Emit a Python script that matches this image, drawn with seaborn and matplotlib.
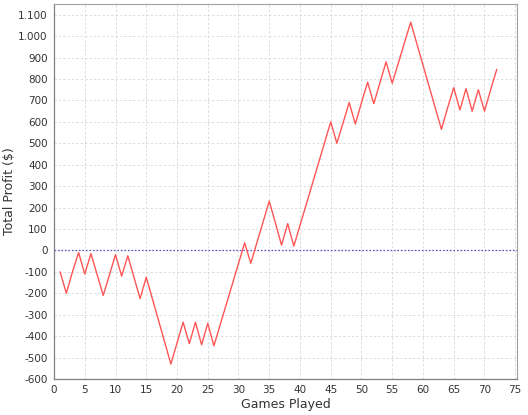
import matplotlib
matplotlib.use("Agg")
import matplotlib.pyplot as plt
import matplotlib.ticker as mticker
import seaborn as sns
import pandas as pd
import numpy as np

games = list(range(1, 73))
profit = [
    -100, -200, -100, -10, -110, -15, -112, -210, -115, -20,
    -120, -25, -125, -225, -125, -226, -327, -428, -530, -432,
    -335, -435, -335, -440, -340, -445, -349, -253, -157, -61,
    35, -60, 37, 133, 230, 128, 25, 125, 20, 117,
    213, 310, 407, 503, 600, 500, 595, 690, 590, 690,
    785, 685, 783, 880, 780, 875, 970, 1065, 965, 865,
    765, 665, 565, 665, 760, 655, 755, 650, 750, 650,
    750, 845,
]
x_ticks = list(range(0, 80, 5))
y_ticks = list(range(-600, 1200, 100))

df = pd.DataFrame({"Games Played": games, "Total Profit ($)": profit})

sns.set_style("white")
plt.rcParams["font.family"] = ["DejaVu Sans"]

fig = plt.figure(figsize=(5.28, 4.15), dpi=100)
ax = fig.add_axes([0.1023, 0.0867, 0.8770, 0.9037])

ax.axhline(0, color="#5050d0", lw=0.9, ls=(0, (1.2, 1.6)), zorder=2)
sns.lineplot(data=df, x="Games Played", y="Total Profit ($)", ax=ax,
             color="#ff5555", lw=1.0, zorder=3)

ax.set_xlim(0, 75.3)
ax.set_ylim(-600, 1150)
ax.set_xticks(x_ticks)
ax.set_yticks(y_ticks)

def fmt(v, pos):
    s = f"{int(round(v)):,}".replace(",", ".")
    return s
ax.yaxis.set_major_formatter(mticker.FuncFormatter(fmt))

ax.grid(True, color="#dcdcdc", lw=0.7, ls=(0, (2.5, 2)))
ax.set_axisbelow(True)
for side in ["top", "right"]:
    ax.spines[side].set_color("#a0a0a0")
    ax.spines[side].set_linewidth(0.8)
for side in ["left", "bottom"]:
    ax.spines[side].set_color("#808080")
    ax.spines[side].set_linewidth(0.9)

ax.tick_params(axis="both", which="major", labelsize=7.5, length=2.5,
               width=0.7, color="#808080", labelcolor="#333333", pad=2)
ax.set_xlabel("Games Played", fontsize=9, color="#333333", labelpad=2)
ax.set_ylabel("Total Profit ($)", fontsize=9, color="#333333")
ax.yaxis.set_label_coords(-0.082, 0.5)

fig.savefig("out.png", dpi=100)
